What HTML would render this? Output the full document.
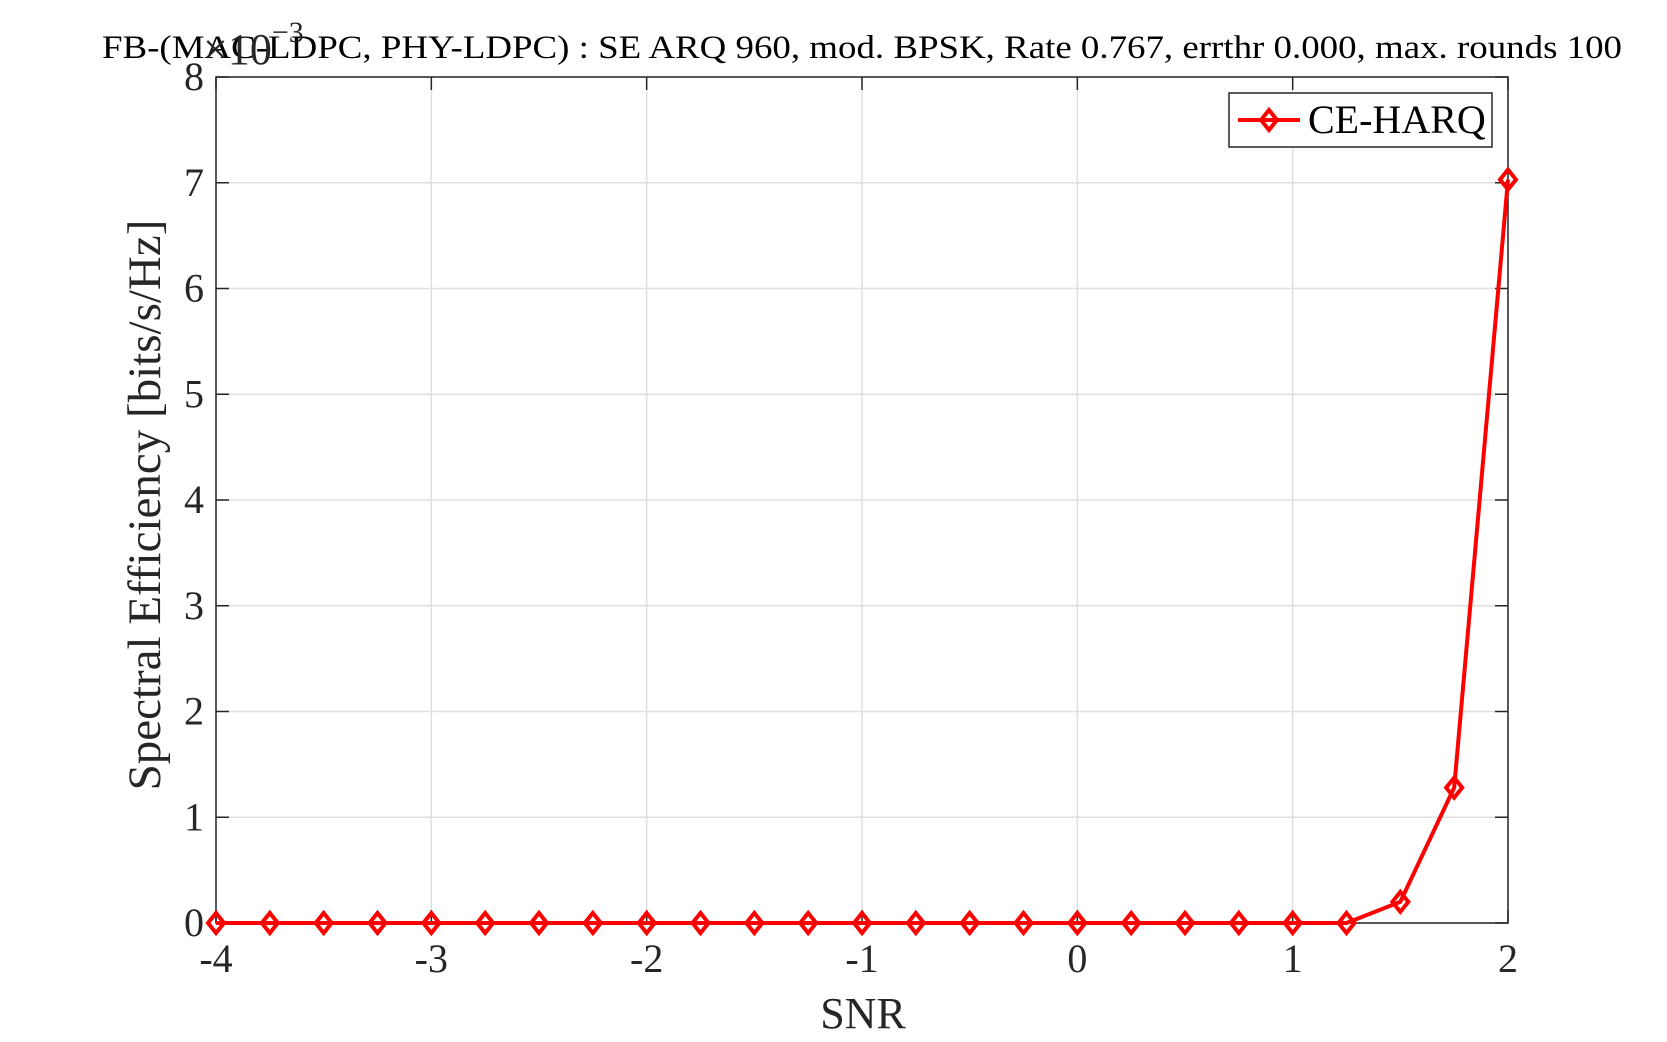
<!DOCTYPE html>
<html><head><meta charset="utf-8"><style>
html,body{margin:0;padding:0;background:#fff}
svg{display:block;font-family:"Liberation Serif",serif}
</style></head><body>
<svg id="chart" width="1667" height="1042" viewBox="0 0 1667 1042" xmlns="http://www.w3.org/2000/svg">
<rect width="1667" height="1042" fill="#fff"/>
<g id="grid"></g>
<g id="axes"></g>
<g id="series"></g>
<text x="862" y="58" text-anchor="middle" font-size="33" textLength="1520" lengthAdjust="spacingAndGlyphs" fill="#000">FB-(MAC-LDPC, PHY-LDPC) : SE ARQ 960, mod. BPSK, Rate 0.767, errthr 0.000, max. rounds 100</text>
<text x="203" y="64" font-size="44" fill="#262626">×10<tspan dy="-22" font-size="30">−3</tspan></text>
<text x="863" y="1028" text-anchor="middle" font-size="44" fill="#262626">SNR</text>
<text transform="translate(160,505) rotate(-90)" text-anchor="middle" font-size="47" fill="#262626">Spectral Efficiency [bits/s/Hz]</text>
<g>
<rect x="1229" y="93" width="263" height="54" fill="#fff" stroke="#262626" stroke-width="1.5"/>
<line x1="1238" y1="120" x2="1300" y2="120" stroke="#f00" stroke-width="4"/>
<path d="M1269 110 L1277 120 L1269 130 L1261 120 Z" fill="none" stroke="#f00" stroke-width="4"/>
<text x="1308" y="133" font-size="40" fill="#000">CE-HARQ</text>
</g>
</svg>
<script>
const categories = [-4,-3.75,-3.5,-3.25,-3,-2.75,-2.5,-2.25,-2,-1.75,-1.5,-1.25,-1,-0.75,-0.5,-0.25,0,0.25,0.5,0.75,1,1.25,1.5,1.75,2];
const seriesValues = [0,0,0,0,0,0,0,0,0,0,0,0,0,0,0,0,0,0,0,0,0,0,0.2,1.28,7.03];
const xTicks = [-4,-3,-2,-1,0,1,2];
const yTicks = [0,1,2,3,4,5,6,7,8];
const L=216,R=1508,T=77,B=923;
const xs=v=>L+(v+4)/6*(R-L);
const ys=v=>B-v/8*(B-T);
const NS='http://www.w3.org/2000/svg';
function mk(tag,parent,attrs){const e=document.createElementNS(NS,tag);for(const k in attrs)e.setAttribute(k,attrs[k]);parent.appendChild(e);return e;}
const grid=document.getElementById('grid'),axes=document.getElementById('axes'),ser=document.getElementById('series');
xTicks.forEach(t=>{
  const x=xs(t);
  const g=mk('line',grid,{x1:x,y1:T,x2:x,y2:B,stroke:'#dfdfdf','stroke-width':1.5});
  
  
  const k1=mk('line',axes,{x1:x,y1:B,x2:x,y2:B-13,stroke:'#262626','stroke-width':1.5});
  
  
  const k2=mk('line',axes,{x1:x,y1:T,x2:x,y2:T+13,stroke:'#262626','stroke-width':1.5});
  
  
  const lb=mk('text',axes,{x:x,y:972,'text-anchor':'middle','font-size':40,fill:'#262626'});
  lb.textContent=String(t);
  
  
});
yTicks.forEach(t=>{
  const y=ys(t);
  const g=mk('line',grid,{x1:L,y1:y,x2:R,y2:y,stroke:'#dfdfdf','stroke-width':1.5});
  
  
  const k1=mk('line',axes,{x1:L,y1:y,x2:L+13,y2:y,stroke:'#262626','stroke-width':1.5});
  
  
  const k2=mk('line',axes,{x1:R,y1:y,x2:R-13,y2:y,stroke:'#262626','stroke-width':1.5});
  
  
  const lb=mk('text',axes,{x:L-12,y:y+13,'text-anchor':'end','font-size':40,fill:'#262626'});
  lb.textContent=String(t);
  
  
});
const box=mk('rect',axes,{x:L,y:T,width:R-L,height:B-T,fill:'none',stroke:'#262626','stroke-width':1.5});


const pts=categories.map((c,i)=>xs(c)+','+ys(seriesValues[i])).join(' ');
const line=mk('polyline',ser,{points:pts,fill:'none',stroke:'#f00','stroke-width':4,'stroke-linejoin':'round'});


categories.forEach((c,i)=>{
  const x=xs(c),y=ys(seriesValues[i]);
  const m=mk('path',ser,{d:`M${x} ${y-10} L${x+8} ${y} L${x} ${y+10} L${x-8} ${y} Z`,fill:'none',stroke:'#f00','stroke-width':4});
  
  
});
</script>
</body></html>
